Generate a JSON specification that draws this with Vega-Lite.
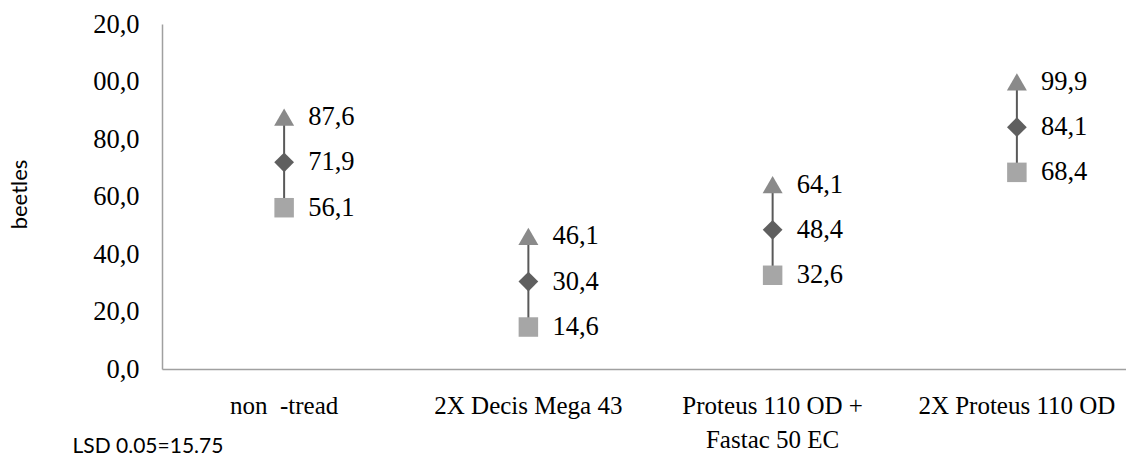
{
  "$schema": "https://vega.github.io/schema/vega-lite/v6.json",
  "width": 977,
  "height": 345,
  "autosize": {"type": "none"},
  "padding": {"left": 162, "top": 24, "right": 0, "bottom": 86},
  "background": "white",
  "config": {
    "view": {"stroke": null},
    "locale": {"number": {"decimal": ",", "thousands": ".", "grouping": [3], "currency": ["", ""]}}
  },
  "data": {
    "values": [
      {"treatment": "non  -tread", "stat": "low", "value": 56.1},
      {"treatment": "non  -tread", "stat": "mean", "value": 71.9},
      {"treatment": "non  -tread", "stat": "high", "value": 87.6},
      {"treatment": "2X Decis Mega 43", "stat": "low", "value": 14.6},
      {"treatment": "2X Decis Mega 43", "stat": "mean", "value": 30.4},
      {"treatment": "2X Decis Mega 43", "stat": "high", "value": 46.1},
      {"treatment": "Proteus 110 OD + Fastac 50 EC", "stat": "low", "value": 32.6},
      {"treatment": "Proteus 110 OD + Fastac 50 EC", "stat": "mean", "value": 48.4},
      {"treatment": "Proteus 110 OD + Fastac 50 EC", "stat": "high", "value": 64.1},
      {"treatment": "2X Proteus 110 OD", "stat": "low", "value": 68.4},
      {"treatment": "2X Proteus 110 OD", "stat": "mean", "value": 84.1},
      {"treatment": "2X Proteus 110 OD", "stat": "high", "value": 99.9}
    ]
  },
  "encoding": {
    "x": {
      "field": "treatment",
      "type": "nominal",
      "sort": ["non  -tread", "2X Decis Mega 43", "Proteus 110 OD + Fastac 50 EC", "2X Proteus 110 OD"],
      "scale": {"paddingInner": 0, "paddingOuter": 0},
      "axis": {
        "labelAngle": 0,
        "ticks": false,
        "domainColor": "#a0a0a0",
        "domainWidth": 1.5,
        "labelFont": "Liberation Serif, DejaVu Serif, serif",
        "labelFontSize": 25,
        "labelLimit": 0,
        "labelColor": "#000000",
        "labelPadding": 24,
        "labelLineHeight": 34,
        "labelBaseline": "top",
        "labelExpr": "datum.label == 'Proteus 110 OD + Fastac 50 EC' ? ['Proteus 110 OD +', 'Fastac 50 EC'] : (datum.label == 'non  -tread' ? 'non \u00a0-tread' : datum.label)",
        "title": "LSD 0.05=15.75",
        "titleFont": "Lato",
        "titleFontSize": 21,
        "titleFontWeight": "normal",
        "titleColor": "#000000",
        "titleX": -90,
        "titleY": 83,
        "titleAlign": "left",
        "titleBaseline": "alphabetic",
        "titleAnchor": "start"
      }
    },
    "y": {
      "field": "value",
      "type": "quantitative",
      "scale": {"domain": [0, 120], "nice": false},
      "axis": {
        "values": [0, 20, 40, 60, 80, 100, 120],
        "format": ".1f",
        "labelExpr": "datum.value >= 100 ? substring(datum.label, 1) : datum.label",
        "grid": false,
        "ticks": false,
        "domainColor": "#a0a0a0",
        "domainWidth": 1.5,
        "labelFont": "Liberation Serif, DejaVu Serif, serif",
        "labelFontSize": 26.5,
        "labelColor": "#000000",
        "labelPadding": 23,
        "title": "beetles",
        "titleFont": "Lato",
        "titleFontSize": 22,
        "titleFontWeight": "normal",
        "titleColor": "#000000",
        "titleX": -131,
        "titleY": 170,
        "titleAnchor": "middle"
      }
    }
  },
  "layer": [
    {
      "mark": {"type": "rule", "color": "#595959", "strokeWidth": 2},
      "encoding": {
        "y": {"aggregate": "min", "field": "value", "type": "quantitative"},
        "y2": {"aggregate": "max", "field": "value"}
      }
    },
    {
      "mark": {"type": "point", "filled": true, "opacity": 1, "strokeWidth": 0},
      "encoding": {
        "shape": {"field": "stat", "type": "nominal", "scale": {"domain": ["low", "mean", "high"], "range": ["square", "diamond", "triangle-up"]}, "legend": null},
        "color": {"field": "stat", "type": "nominal", "scale": {"domain": ["low", "mean", "high"], "range": ["#a6a6a6", "#5f5f5f", "#8a8a8a"]}, "legend": null},
        "size": {"field": "stat", "type": "nominal", "scale": {"domain": ["low", "mean", "high"], "range": [380, 400, 420]}, "legend": null}
      }
    },
    {
      "mark": {"type": "text", "align": "left", "baseline": "middle", "dx": 24, "font": "Liberation Serif, DejaVu Serif, serif", "fontSize": 26.5, "color": "#000000"},
      "encoding": {
        "text": {"field": "value", "type": "quantitative", "format": ".1f"}
      }
    }
  ]
}
